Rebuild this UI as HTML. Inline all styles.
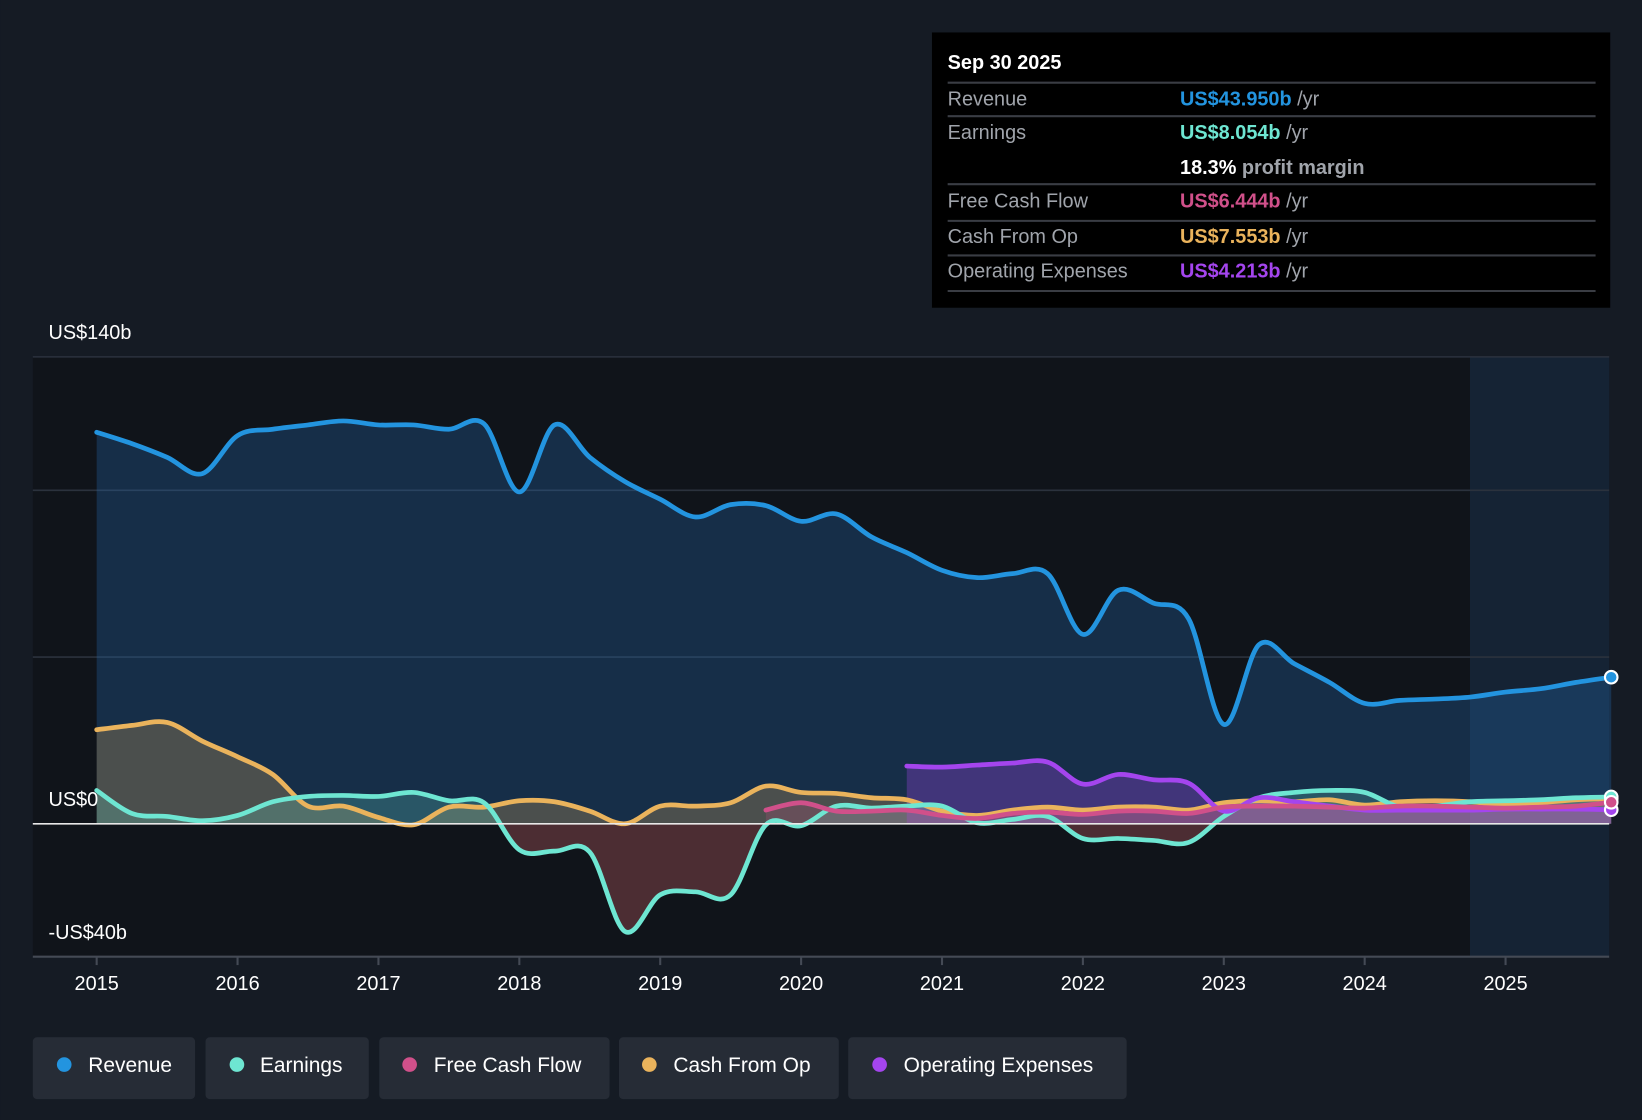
<!DOCTYPE html>
<html><head><meta charset="utf-8"><style>
html,body{margin:0;padding:0;background:#151b24;}
svg{display:block;font-family:"Liberation Sans",Roboto,sans-serif;}
</style></head><body>
<svg id="chart" width="1642" height="1120" viewBox="0 0 1568 1070">
<rect x="0" y="0" width="1568" height="1070" fill="#151b24"/>
<rect x="31" y="341" width="1506" height="573" fill="#10141a"/>
<rect id="fc" x="1404" y="341" width="133" height="573" fill="rgba(25,45,70,0.6)"/>
<g id="grid"></g>
<g id="areas"></g>
<g id="lines"></g>
<line x1="31" y1="787" x2="1537" y2="787" stroke="#e8e8e8" stroke-width="1.6"/>
<line x1="31" y1="914" x2="1537" y2="914" stroke="#444a55" stroke-width="2"/>
<g id="xaxis"></g>
<text x="46" y="324" fill="#fff" font-size="19">US$140b</text>
<text x="46" y="770" fill="#fff" font-size="19">US$0</text>
<text x="46" y="897" fill="#fff" font-size="19">-US$40b</text>

<g>
<rect x="890" y="31" width="648" height="263" fill="#000"/>
<text x="905" y="66" fill="#fff" font-size="19" font-weight="bold">Sep 30 2025</text>
<g stroke="#3a3d44" stroke-width="2">
<line x1="905" y1="79" x2="1524" y2="79"/><line x1="905" y1="111" x2="1524" y2="111"/>
<line x1="905" y1="176" x2="1524" y2="176"/><line x1="905" y1="211" x2="1524" y2="211"/>
<line x1="905" y1="244" x2="1524" y2="244"/><line x1="905" y1="278" x2="1524" y2="278"/>
</g>
<g font-size="19" fill="#a0a4ab">
<text x="905" y="101">Revenue</text><text x="905" y="133">Earnings</text>
<text x="905" y="198">Free Cash Flow</text><text x="905" y="232">Cash From Op</text>
<text x="905" y="265">Operating Expenses</text>
</g>
<g font-size="19" font-weight="bold">
<text x="1127" y="101" fill="#2394df">US$43.950b <tspan fill="#a0a4ab" font-weight="normal">/yr</tspan></text>
<text x="1127" y="133" fill="#6ee6d2">US$8.054b <tspan fill="#a0a4ab" font-weight="normal">/yr</tspan></text>
<text x="1127" y="166" fill="#fff">18.3% <tspan fill="#a0a4ab">profit margin</tspan></text>
<text x="1127" y="198" fill="#d0508a">US$6.444b <tspan fill="#a0a4ab" font-weight="normal">/yr</tspan></text>
<text x="1127" y="232" fill="#eab35c">US$7.553b <tspan fill="#a0a4ab" font-weight="normal">/yr</tspan></text>
<text x="1127" y="265" fill="#a445ee">US$4.213b <tspan fill="#a0a4ab" font-weight="normal">/yr</tspan></text>
</g>
</g>

<g font-size="20" fill="#fff">
<g><rect x="31" y="991" width="155" height="59" rx="4" fill="#262c36"/><circle cx="61" cy="1017" r="7" fill="#2394df"/><text x="84" y="1024" fill="#fff">Revenue</text></g>
<g><rect x="196" y="991" width="156" height="59" rx="4" fill="#262c36"/><circle cx="226" cy="1017" r="7" fill="#6ee6d2"/><text x="248" y="1024" fill="#fff">Earnings</text></g>
<g><rect x="362" y="991" width="220" height="59" rx="4" fill="#262c36"/><circle cx="391" cy="1017" r="7" fill="#d0508a"/><text x="414" y="1024" fill="#fff">Free Cash Flow</text></g>
<g><rect x="591" y="991" width="210" height="59" rx="4" fill="#262c36"/><circle cx="620" cy="1017" r="7" fill="#eab35c"/><text x="643" y="1024" fill="#fff">Cash From Op</text></g>
<g><rect x="810" y="991" width="266" height="59" rx="4" fill="#262c36"/><circle cx="840" cy="1017" r="7" fill="#a445ee"/><text x="863" y="1024" fill="#fff">Operating Expenses</text></g>
</g>
</svg>
<script>
const years = [2015,2016,2017,2018,2019,2020,2021,2022,2023,2024,2025];
const gridValues = [140,100,50];
const revenue = [117.4,114,109.9,105,116.4,118.3,119.6,120.8,119.6,119.6,118.3,119.9,99.5,119.6,109.9,102.6,97.3,92,95.7,95.4,90.7,92.9,86,81.3,76,73.8,75,75,56.8,70,66.2,61.5,29.8,53.7,48,42.4,36.1,37,37.4,38,39.5,40.5,42.4,43.95];
const earnings = [10,3.1,2.2,0.9,2.5,6.6,8.2,8.5,8.2,9.4,6.9,6.3,-7.8,-8.2,-8.5,-32.3,-21.3,-20.4,-21.3,-0.3,-0.6,5.3,4.7,5.3,5.3,0.3,1.3,2.2,-4.4,-4.4,-5,-5.6,2.2,7.8,9.4,10,9.4,5,5.3,6.6,6.9,7.2,7.8,8.054];
const cashFromOp = [28.2,29.5,30.4,24.8,20.1,14.8,5.3,5.3,1.9,-0.3,5,5,6.9,6.6,3.8,0,5.3,5.3,6.3,11.3,9.4,9.1,7.8,7.2,3.8,2.5,4.1,5,4.1,5,5,4.1,6.3,6.9,6.6,7.2,5.6,6.6,6.9,6.6,5.6,6.3,7.2,7.553];
const fcfStart = 2019.75;
const freeCashFlow = [4.1,6.3,3.8,3.8,4.1,2.5,1.6,3.1,3.5,2.8,3.8,3.8,3.1,5,5.3,5.3,5,4.7,5.3,5.3,5,4.7,5,5.3,6.444];
const opexStart = 2020.75;
const opex = [17.3,17,17.6,18.2,18.5,11.9,14.8,13.2,12.2,3.8,7.8,6.6,5.3,4.1,4.1,4.1,4.1,4.4,4.4,4.4,4.213];
const NS='http://www.w3.org/2000/svg';
const xS = t => 92 + (t-2015)*134.6;
const yS = v => 787 - v*3.186;
function mk(tag, attrs, parent){const e=document.createElementNS(NS,tag);for(const k in attrs)e.setAttribute(k,attrs[k]);parent.appendChild(e);return e;}
function pts(arr,start){return arr.map((v,i)=>[xS(start+i*0.25),yS(v)]);}
function curve(p){let d='M'+p[0][0]+','+p[0][1];for(let i=0;i<p.length-1;i++){const p0=p[i-1]||p[i],p1=p[i],p2=p[i+1],p3=p[i+2]||p2;const c1x=p1[0]+(p2[0]-p0[0])/6,c1y=p1[1]+(p2[1]-p0[1])/6,c2x=p2[0]-(p3[0]-p1[0])/6,c2y=p2[1]-(p3[1]-p1[1])/6;d+=`C${c1x},${c1y} ${c2x},${c2y} ${p2[0]},${p2[1]}`;}return d;}
const grid=document.getElementById('grid');
gridValues.forEach(v=>{const l=mk('line',{x1:31,x2:1537,y1:yS(v),y2:yS(v),stroke:'#2b323d','stroke-width':1.5},grid);

});
const xa=document.getElementById('xaxis');
years.forEach(y=>{const t=mk('line',{x1:xS(y),x2:xS(y),y1:914,y2:922,stroke:'#444a55','stroke-width':2},xa);


const tx=mk('text',{x:xS(y),y:946,fill:'#fff','font-size':19,'text-anchor':'middle'},xa);tx.textContent=y;

});
const series=[
 ['revenue',revenue,2015,'#2394df','rgba(35,110,180,0.3)'],
 ['cash-from-op',cashFromOp,2015,'#eab35c','rgba(234,179,92,0.25)'],
 ['earnings',earnings,2015,'#6ee6d2','rgba(110,230,210,0.22)'],
 ['opex',opex,opexStart,'#a445ee','rgba(164,69,238,0.3)'],
 ['free-cash-flow',freeCashFlow,fcfStart,'#d0508a','rgba(208,80,138,0.2)']];
const A=document.getElementById('areas'),L=document.getElementById('lines');
series.forEach(([n,arr,st,col,fill])=>{
 const p=pts(arr,st);const d=curve(p);
 const a=mk('path',{d:d+`L${p[p.length-1][0]},787L${p[0][0]},787Z`,fill:fill},A);
 
 
 const l=mk('path',{d:d,fill:'none',stroke:col,'stroke-width':4.5,'stroke-linejoin':'round','stroke-linecap':'round'},L);
 
 
 const e=p[p.length-1];
 const c=mk('circle',{cx:e[0],cy:e[1],r:6,fill:col,stroke:'#fff','stroke-width':2},L);
 
 
});
const ep=pts(earnings,2015);
const clip=mk('clipPath',{id:'neg'},A);mk('rect',{x:31,y:787,width:1506,height:127},clip);
const neg=mk('path',{d:curve(ep)+`L${ep[ep.length-1][0]},787L${ep[0][0]},787Z`,fill:'rgba(110,30,40,0.55)','clip-path':'url(#neg)'},A);


</script>
</body></html>
